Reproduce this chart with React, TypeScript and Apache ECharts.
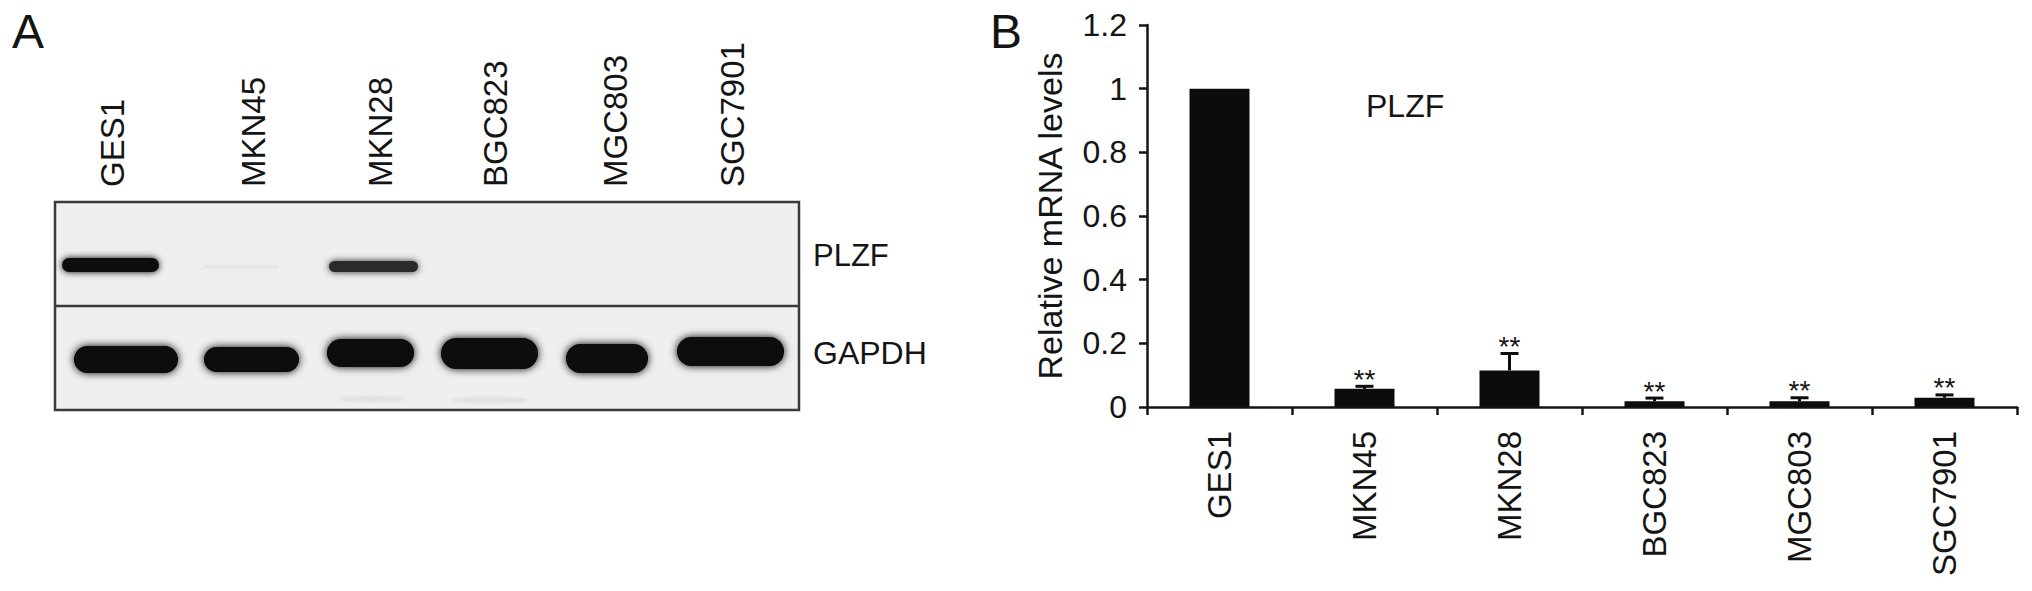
import React, { useEffect, useRef } from "react";
import * as echarts from "echarts";

// ---------- data ----------
const categories = ["GES1", "MKN45", "MKN28", "BGC823", "MGC803", "SGC7901"];
const relativeMRNA = [1.0, 0.057, 0.115, 0.018, 0.018, 0.029];
const errorUpper = [0, 0.008, 0.053, 0.010, 0.011, 0.009];
const significance = ["", "**", "**", "**", "**", "**"];
const yMin = 0;
const yMax = 1.2;
const yInterval = 0.2;
const yAxisTitle = "Relative mRNA levels";
const chartGeneLabel = "PLZF";
const blotRowLabels = ["PLZF", "GAPDH"];
// western blot band intensities (0 = none, 1 = saturated)
const plzfBandIntensity = [0.95, 0.04, 0.82, 0, 0, 0];
const gapdhBandIntensity = [1, 1, 1, 1, 1, 1];

// ---------- layout (panel A drawing) ----------
const laneLabelX = [112, 253, 380, 495, 615, 732];
const plzfBands = [
  [58, 163, 255, 275],
  [200, 283, 262, 271],
  [325, 422, 258, 275],
  [0, 0, 0, 0],
  [0, 0, 0, 0],
  [0, 0, 0, 0],
];
const gapdhBands = [
  [70, 182, 342, 377],
  [200, 303, 343, 376],
  [323, 418, 335, 371],
  [437, 542, 334, 373],
  [562, 652, 340, 377],
  [673, 788, 333, 370],
];

const FONT = "'Liberation Sans', Arial, Helvetica, sans-serif";
const INK = "#141414";

function bandColor(intensity: number) {
  const g = Math.round(239 * (1 - intensity));
  return `rgb(${g},${g},${g})`;
}

function buildBlotGraphics() {
  const els: any[] = [];
  els.push({
    type: "rect",
    shape: { x: 55, y: 202, width: 744, height: 208 },
    style: { fill: "#efefef", stroke: "#3a3a3a", lineWidth: 2.5 },
    z: 1,
  });
  els.push({
    type: "line",
    shape: { x1: 55, y1: 306, x2: 799, y2: 306 },
    style: { stroke: "#3a3a3a", lineWidth: 2.5 },
    z: 3,
  });
  plzfBands.forEach((b, i) => {
    const inten = plzfBandIntensity[i];
    if (inten <= 0) return;
    const [x0, x1, y0, y1] = b;
    const c = bandColor(inten);
    els.push({
      type: "rect",
      shape: { x: x0 + 4, y: y0 + 3, width: x1 - x0 - 8, height: y1 - y0 - 6, r: (y1 - y0) / 2 },
      style: { fill: c, shadowBlur: 7, shadowColor: c },
      z: 2,
    });
  });
  gapdhBands.forEach((b, i) => {
    const inten = gapdhBandIntensity[i];
    if (inten <= 0) return;
    const [x0, x1, y0, y1] = b;
    const c = bandColor(inten * 0.97);
    els.push({
      type: "rect",
      shape: { x: x0 + 4, y: y0 + 4, width: x1 - x0 - 8, height: y1 - y0 - 8, r: (y1 - y0) * 0.45 },
      style: { fill: c, shadowBlur: 8, shadowColor: c },
      z: 2,
    });
  });
  // faint smudges under the lower strip
  [
    [372, 399, 32, 3],
    [490, 400, 38, 3],
  ].forEach(([cx, cy, rx, ry]) => {
    els.push({
      type: "ellipse",
      shape: { cx, cy, rx, ry },
      style: { fill: "#e3e3e3", shadowBlur: 4, shadowColor: "#e3e3e3" },
      z: 2,
    });
  });
  categories.forEach((name, i) => {
    els.push({
      type: "text",
      x: laneLabelX[i],
      y: 187,
      rotation: Math.PI / 2,
      style: {
        text: name,
        fontSize: 33,
        fontFamily: FONT,
        fill: INK,
        align: "left",
        verticalAlign: "middle",
      },
      z: 5,
    });
  });
  els.push({
    type: "text",
    x: 813,
    y: 255,
    style: { text: blotRowLabels[0], fontSize: 31, fontFamily: FONT, fill: INK, align: "left", verticalAlign: "middle" },
    z: 5,
  });
  els.push({
    type: "text",
    x: 813,
    y: 353,
    style: { text: blotRowLabels[1], fontSize: 32, fontFamily: FONT, fill: INK, align: "left", verticalAlign: "middle" },
    z: 5,
  });
  // panel letters
  els.push({
    type: "text",
    x: 12,
    y: 31,
    style: { text: "A", fontSize: 48, fontFamily: FONT, fill: INK, align: "left", verticalAlign: "middle" },
    z: 5,
  });
  els.push({
    type: "text",
    x: 990,
    y: 31,
    style: { text: "B", fontSize: 48, fontFamily: FONT, fill: INK, align: "left", verticalAlign: "middle" },
    z: 5,
  });
  // gene label inside bar chart
  els.push({
    type: "text",
    x: 1366,
    y: 106,
    style: { text: chartGeneLabel, fontSize: 32, fontFamily: FONT, fill: INK, align: "left", verticalAlign: "middle" },
    z: 5,
  });
  return els;
}

export default function App() {
  const ref = useRef<HTMLDivElement>(null);

  useEffect(() => {
    if (!ref.current) return;
    const chart = echarts.init(ref.current, undefined, { renderer: "svg" });
    const errData = categories.map((_, i) => [i, relativeMRNA[i], relativeMRNA[i] + errorUpper[i]]);

    chart.setOption({
      animation: false,
      backgroundColor: "#ffffff",
      textStyle: { fontFamily: FONT, color: INK },
      grid: { left: 1147, top: 25, right: 15, bottom: 184, containLabel: false },
      xAxis: {
        type: "category",
        data: categories,
        boundaryGap: true,
        axisLine: { show: true, lineStyle: { color: INK, width: 2.5 } },
        axisTick: { show: true, interval: 0, length: 8, lineStyle: { color: INK, width: 2.5 } },
        axisLabel: {
          interval: 0,
          rotate: 90,
          margin: 24,
          fontSize: 33,
          fontFamily: FONT,
          color: INK,
        },
        splitLine: { show: false },
      },
      yAxis: {
        type: "value",
        min: yMin,
        max: yMax,
        interval: yInterval,
        name: yAxisTitle,
        nameLocation: "middle",
        nameGap: 80,
        nameTextStyle: { fontSize: 34, fontFamily: FONT, color: INK },
        axisLine: { show: true, lineStyle: { color: INK, width: 2.5 } },
        axisTick: { show: true, length: 8, lineStyle: { color: INK, width: 2.5 } },
        axisLabel: { margin: 20, fontSize: 32, fontFamily: FONT, color: INK },
        splitLine: { show: false },
      },
      graphic: buildBlotGraphics(),
      series: [
        {
          type: "bar",
          data: relativeMRNA,
          barWidth: 60,
          itemStyle: { color: "#0c0c0c" },
          z: 2,
        },
        {
          type: "custom",
          data: errData,
          z: 3,
          clip: false,
          renderItem: (params: any, api: any) => {
            const i = api.value(0);
            const base = api.coord([i, api.value(1)]);
            const tip = api.coord([i, api.value(2)]);
            const children: any[] = [];
            if (api.value(2) > api.value(1)) {
              children.push({
                type: "line",
                shape: { x1: base[0], y1: base[1], x2: tip[0], y2: tip[1] },
                style: { stroke: "#0c0c0c", lineWidth: 3 },
              });
              children.push({
                type: "line",
                shape: { x1: tip[0] - 9, y1: tip[1], x2: tip[0] + 9, y2: tip[1] },
                style: { stroke: "#0c0c0c", lineWidth: 3 },
              });
            }
            const sig = significance[params.dataIndex];
            if (sig) {
              children.push({
                type: "text",
                x: tip[0],
                y: tip[1] - 7,
                style: {
                  text: sig,
                  fontSize: 28,
                  fontFamily: FONT,
                  fill: INK,
                  align: "center",
                  verticalAlign: "middle",
                },
              });
            }
            return { type: "group", children };
          },
        },
      ],
    });
    return () => chart.dispose();
  }, []);

  return (
    <div
      ref={ref}
      style={{ position: "fixed", left: 0, top: 0, width: 2032, height: 591, background: "#fff" }}
    />
  );
}
